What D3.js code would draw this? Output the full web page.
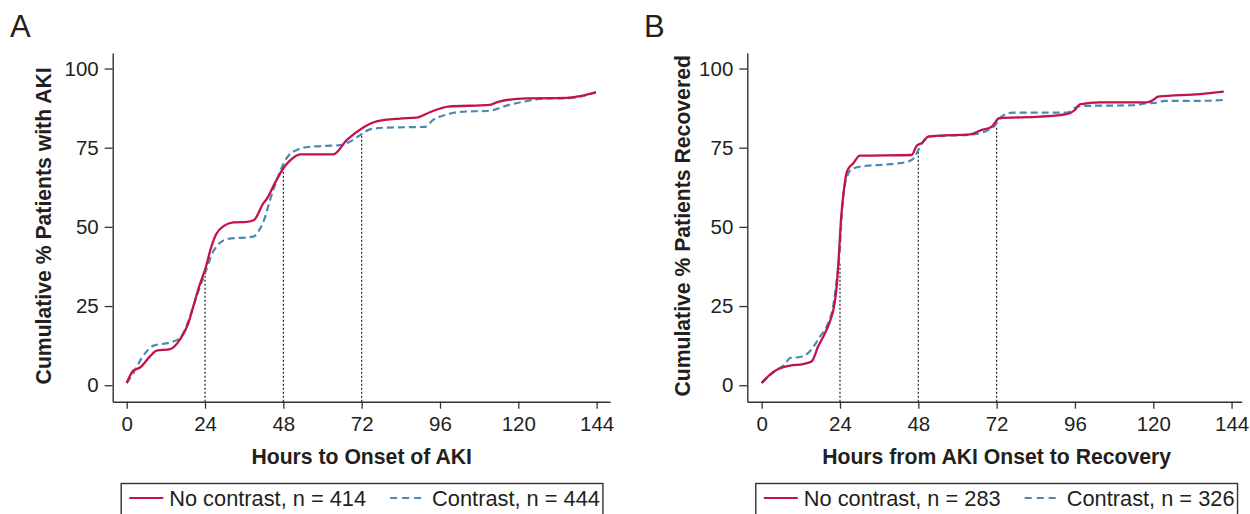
<!DOCTYPE html>
<html><head><meta charset="utf-8">
<script src="https://cdn.jsdelivr.net/npm/d3@7"></script>
<style>
html,body{margin:0;padding:0;background:#fff;}
svg text{font-family:"Liberation Sans",Arial,Helvetica,sans-serif;fill:#231f20;}
</style></head>
<body>
<svg id="chart" width="1250" height="514"></svg>
<script>
// ---------- DATA ----------
const xTicks = [0, 24, 48, 72, 96, 120, 144];
const yTicks = [0, 25, 50, 75, 100];
const refHours = [24, 48, 72];

// Panel A: Hours to onset of AKI
const aNoContrastHours = [0,2,4.1,7.1,9.2,13.3,16.3,18.9,20.4,22.2,24.3,25.8,27.4,29.8,32.7,36.8,39,41.9,42.9,45.4,48,50,53.1,63.3,67.4,72.5,76.6,83.7,88.8,92.9,98.5,111.3,113.8,122.5,134.8,138.9,143.8];
const aNoContrastPct   = [0.7,4.6,5.6,9.1,10.9,11.4,14.4,19.6,24.9,31.2,37.5,43.3,47.7,50.3,51.4,51.6,52.2,57.5,58.8,63.8,68.5,70.9,72.9,72.9,77.4,81.4,83.3,84.2,84.5,86.2,88.0,88.5,89.5,90.6,90.7,91.3,92.5];
const aContrastHours = [0,2,4.6,8.2,13.3,16.3,19.4,21.4,24,26.5,28.6,31.1,38.8,40.3,42.1,43.9,46,49,52.6,56.2,65.3,68.4,72,74.5,78.6,91.4,93.9,97.5,102.1,111.3,116.4,122.5,127.6,134.8,138.9,143.8];
const aContrastPct   = [0.7,3.8,8.6,12.5,13.5,14.9,21.7,28,35.4,42.2,45,46.2,46.9,48.5,52.2,58.5,64.8,71.7,74.5,75.3,75.8,76.9,79.3,80.8,81.3,81.6,83.8,85.3,86.3,86.7,88.3,89.7,90.5,90.6,91.1,92.5];
const aRefPct = [36.5, 68.5, 79.5];

// Panel B: Hours from AKI onset to recovery
const bNoContrastHours = [0,2.5,5.1,8.7,12.7,15.3,17.3,18.9,20.9,22.2,23,23.7,24.3,25.2,26.2,28.1,30.1,46,47.5,49.3,51,54.6,63.8,66.9,70.5,72.8,85.3,93.4,96,97.5,103.6,117.9,120,121.5,134.3,141.6];
const bNoContrastPct   = [0.7,3.3,5.1,6.2,6.7,7.5,12.2,15.4,20.1,24.9,31.2,41.7,52.2,61.7,67.7,70.1,72.5,72.7,75.6,76.6,78.5,78.8,79.2,80.4,81.6,84.3,84.8,85.6,86.9,88.7,89.3,89.3,90.1,91.1,91.9,92.7];
const bContrastHours = [0,4.6,7.1,8.7,11.7,14.3,17.9,20.4,21.9,23,23.8,24.7,25.8,27.6,30.1,39.3,44.9,47,48.5,51,64.8,71,73.5,77.1,85.3,93.4,97,99.6,113.8,117.9,121,123.6,134.3,141.9];
const bContrastPct   = [0.7,4.9,6.5,8.6,8.9,10.2,15.4,19.6,24.9,33.3,40.6,56.4,64.8,68.2,69,69.8,70.6,72.2,75.3,78.5,79.2,81.5,84.8,86.1,86.1,86.1,88,88.2,88.4,89,89.2,89.8,89.8,90.1];
const bRefPct = [38.5, 74, 82];

const panelLetters = ["A", "B"];
const xTitles = ["Hours to Onset of AKI", "Hours from AKI Onset to Recovery"];
const yTitles = ["Cumulative % Patients with AKI", "Cumulative % Patients Recovered"];
const noContrastLabels = ["No contrast, n = 414", "No contrast, n = 283"];
const contrastLabels = ["Contrast, n = 444", "Contrast, n = 326"];

// ---------- STYLE / LAYOUT ----------
const RED = "#c2134b", BLUE = "#4a89b4", AXIS = "#333333";
const panels = [
  {left:112.7, right:610, xDom:[-4.3,148.1], letterX:10, yTitleX:43.5,
   noc:[aNoContrastHours,aNoContrastPct], con:[aContrastHours,aContrastPct], ref:aRefPct},
  {left:747.3, right:1241.7, xDom:[-4.4,147.1], letterX:644, yTitleX:682.5,
   noc:[bNoContrastHours,bNoContrastPct], con:[bContrastHours,bContrastPct], ref:bRefPct}
];
const plotTop = 53, plotBottom = 401.7;
const yDom = [-5.2, 104.9];

const svg = d3.select("#chart");

panels.forEach((p, i) => {
  const x = d3.scaleLinear().domain(p.xDom).range([p.left, p.right]);
  const y = d3.scaleLinear().domain(yDom).range([plotBottom, plotTop]);
  const g = svg.append("g");

  // panel letter
  g.append("text").attr("x", p.letterX).attr("y", 37)
    .style("font-size", "31px").style("font-weight", "300").text(panelLetters[i]);

  // axes
  const xa = g.append("g").attr("transform", `translate(0,${plotBottom})`)
    .call(d3.axisBottom(x).tickValues(xTicks).tickSizeOuter(0).tickSizeInner(7).tickPadding(7));
  const ya = g.append("g").attr("transform", `translate(${p.left},0)`)
    .call(d3.axisLeft(y).tickValues(yTicks).tickSizeOuter(0).tickSizeInner(8).tickPadding(6));
  [xa, ya].forEach(a => {
    a.selectAll("path.domain").attr("stroke", AXIS).attr("stroke-width", 1.4);
    a.selectAll(".tick line").attr("stroke", AXIS).attr("stroke-width", 1.3);
    a.selectAll(".tick text").style("font-size", "20.5px").attr("fill", "#231f20")
      .style("font-family", '"Liberation Sans",Arial,sans-serif');
  });
  xa.selectAll(".tick text").attr("dy", "0.76em");

  // axis titles
  g.append("text").attr("x", x(72)).attr("y", 457).attr("dy", "0.35em")
    .attr("text-anchor", "middle").style("font-size", "21.2px").style("font-weight", "bold")
    .text(xTitles[i]);
  g.append("text").attr("transform", `translate(${p.yTitleX},${y(50) - 1}) rotate(-90)`)
    .attr("dy", "0.35em").attr("text-anchor", "middle")
    .style("font-size", "21.2px").style("font-weight", "bold").text(yTitles[i]);

  // reference dotted lines
  g.selectAll("line.ref").data(refHours).join("line").attr("class", "ref")
    .attr("x1", d => x(d)).attr("x2", d => x(d))
    .attr("y1", plotBottom).attr("y2", (d, k) => y(p.ref[k]))
    .attr("stroke", "#222").attr("stroke-width", 1.2).attr("stroke-dasharray", "2,2");

  const line = d3.line().x(d => x(d[0])).y(d => y(d[1])).curve(d3.curveMonotoneX);
  const con = d3.zip(p.con[0], p.con[1]);
  const noc = d3.zip(p.noc[0], p.noc[1]);
  g.append("path").datum(con).attr("d", line).attr("fill", "none")
    .attr("stroke", BLUE).attr("stroke-width", 2.2).attr("stroke-dasharray", "7,4");
  g.append("path").datum(noc).attr("d", line).attr("fill", "none")
    .attr("stroke", RED).attr("stroke-width", 2.3);

  // legend
  const lx = p.left + 8.5, ly = 498;
  const lg = g.append("g");
  const box = lg.append("rect").attr("x", lx).attr("y", 483.5).attr("height", 40)
    .attr("fill", "none").attr("stroke", AXIS).attr("stroke-width", 1.4);
  lg.append("line").attr("x1", lx + 8).attr("x2", lx + 42).attr("y1", ly).attr("y2", ly)
    .attr("stroke", RED).attr("stroke-width", 2.2);
  const t1 = lg.append("text").attr("x", lx + 48).attr("y", ly).attr("dy", "0.36em")
    .style("font-size", "21.8px").text(noContrastLabels[i]);
  const e1 = lx + 48 + t1.node().getComputedTextLength();
  lg.append("line").attr("x1", e1 + 24).attr("x2", e1 + 59).attr("y1", ly).attr("y2", ly)
    .attr("stroke", BLUE).attr("stroke-width", 2.2).attr("stroke-dasharray", "7,5");
  const t2 = lg.append("text").attr("x", e1 + 66).attr("y", ly).attr("dy", "0.36em")
    .style("font-size", "21.8px").text(contrastLabels[i]);
  const e2 = e1 + 66 + t2.node().getComputedTextLength();
  box.attr("width", e2 + 3 - lx);
});
</script>
</body></html>
